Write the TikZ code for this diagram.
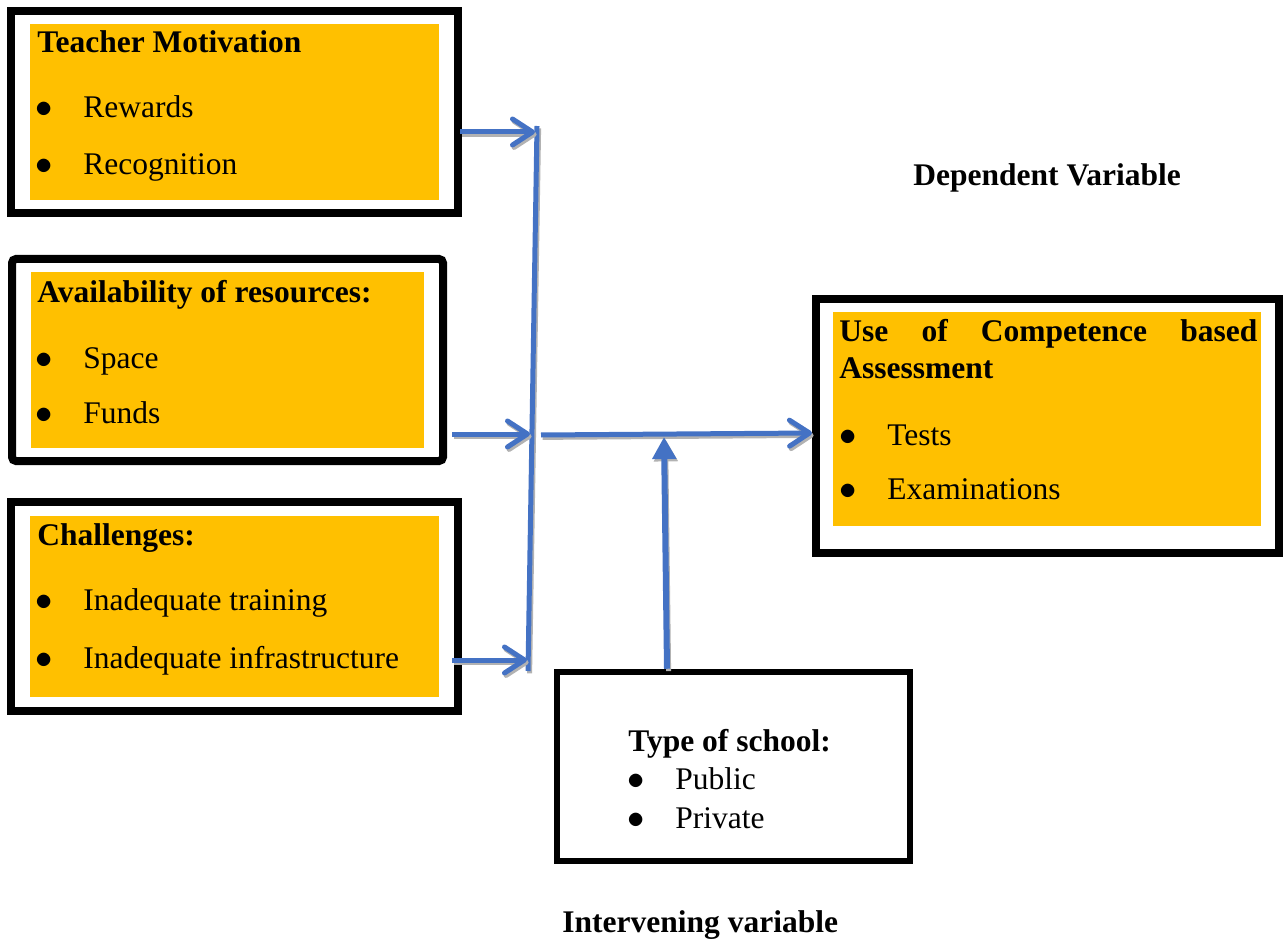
\documentclass[tikz,border=0pt]{standalone}
\usepackage{fontspec}
\setmainfont{Liberation Serif}
\usetikzlibrary{arrows.meta,fit}
\definecolor{boxorange}{HTML}{FFC000}
\definecolor{linkblue}{HTML}{4472C4}

\begin{document}
\begin{tikzpicture}[x=0.5pt,y=-0.5pt,
  outerbox/.style={draw=black,line width=4pt,inner sep=0pt},
  typebox/.style={draw=black,line width=3.25pt,inner sep=0pt},
  fillbox/.style={fill=boxorange,inner sep=0pt},
  txt/.style={anchor=base west,inner sep=0pt,font=\fontsize{15.75}{19}\selectfont},
  head/.style={txt,font=\fontsize{15.75}{19}\selectfont\bfseries},
  dot/.style={txt,font=\fontsize{17}{19}\selectfont},
  link/.style={draw=linkblue,line width=2.5pt,
    preaction={draw=black!30,line width=2.5pt,transform canvas={shift={(0.8pt,-1.2pt)}}}},
  barb/.style={link,-{Straight Barb[length=10pt,width=13pt,round]}}]
\useasboundingbox (0,0) rectangle (1285,941);

\node[outerbox,fit={(11,11)(458,213)}] (tm) {};
\node[fillbox,fit={(30,24)(439,200)}] (tmfill) {};
\node[head] (tmhead) at (37,53) {Teacher Motivation};
\node[dot] (tmb1) at (35,118) {$\bullet$};
\node[txt] (tmt1) at (83,118) {Rewards};
\node[dot] (tmb2) at (35,175) {$\bullet$};
\node[txt] (tmt2) at (83,175) {Recognition};

\node[outerbox,rounded corners=2pt,fit={(12,259)(443,461)}] (ar) {};
\node[fillbox,fit={(31,272)(424,448)}] (arfill) {};
\node[head] (arhead) at (37,303) {Availability of resources:};
\node[dot] (arb1) at (35,368) {$\bullet$};
\node[txt] (art1) at (83,368) {Space};
\node[dot] (arb2) at (35,423) {$\bullet$};
\node[txt] (art2) at (83,423) {Funds};

\node[outerbox,fit={(11,502)(458,711)}] (ch) {};
\node[fillbox,fit={(30,516)(439,697)}] (chfill) {};
\node[head] (chhead) at (37,545) {Challenges:};
\node[dot] (chb1) at (35,610) {$\bullet$};
\node[txt] (cht1) at (83,610) {Inadequate training};
\node[dot] (chb2) at (35,668) {$\bullet$};
\node[txt] (cht2) at (83,668) {Inadequate infrastructure};

\node[outerbox,fit={(816,299)(1279,553)}] (cba) {};
\node[fillbox,fit={(833,312)(1261,526)}] (cbafill) {};
\node[head] (cbahead) at (839,342) {\makebox[209pt][s]{Use of Competence based}};
\node[head] (cbahead2) at (839,379) {Assessment};
\node[dot] (cbab1) at (839,445) {$\bullet$};
\node[txt] (cbat1) at (887,445) {Tests};
\node[dot] (cbab2) at (839,499) {$\bullet$};
\node[txt] (cbat2) at (887,499) {Examinations};

\node[typebox,fit={(557,672)(910,861)}] (ts) {};
\node[head] (tshead) at (628,751) {Type of school:};
\node[dot] (tsb1) at (627,789) {$\bullet$};
\node[txt] (tst1) at (675,789) {Public};
\node[dot] (tsb2) at (627,828) {$\bullet$};
\node[txt] (tst2) at (675,828) {Private};

\node[head] (dep) at (913,186) {Dependent Variable};
\node[head] (inter) at (562,932) {Intervening variable};

\coordinate (bartop) at (537,126);
\coordinate (barbot) at (528,671);
\coordinate (in1) at (535,132);
\coordinate (in2) at (530,434);
\coordinate (in3) at (527,660);
\coordinate (out) at (541,435);
\coordinate (join) at (664,437);

\draw[link] (bartop) -- (barbot);
\draw[barb] (460,132) -- (in1);
\draw[barb] (452,434) -- (in2);
\draw[barb] (452,660) -- (in3);
\draw[barb] (out) -- (cba.west |- 0,433);
\draw[link,line width=3pt,-{Triangle[length=11pt,width=11.5pt]}] (ts.north -| 667,0) -- (join);
\end{tikzpicture}
\end{document}
